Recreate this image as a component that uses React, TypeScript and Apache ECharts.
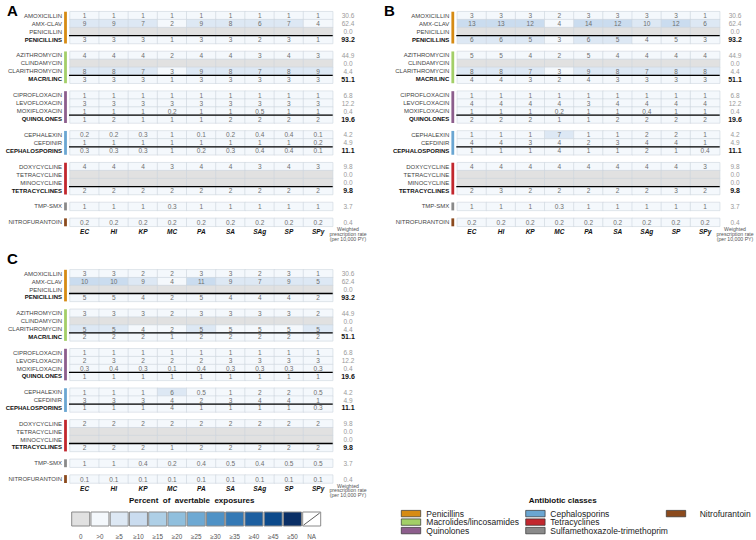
import React, { useEffect, useRef } from 'react';
import * as echarts from 'echarts';

const FONT = 'Liberation Sans, Arial, Helvetica, sans-serif';

const organisms = ['EC', 'HI', 'KP', 'MC', 'PA', 'SA', 'SAg', 'SP', 'SPy'];
const drugs = [
  'AMOXICILLIN', 'AMX-CLAV', 'PENICILLIN', 'PENICILLINS',
  'AZITHROMYCIN', 'CLINDAMYCIN', 'CLARITHROMYCIN', 'MACR/LINC',
  'CIPROFLOXACIN', 'LEVOFLOXACIN', 'MOXIFLOXACIN', 'QUINOLONES',
  'CEPHALEXIN', 'CEFDINIR', 'CEPHALOSPORINS',
  'DOXYCYCLINE', 'TETRACYCLINE', 'MINOCYCLINE', 'TETRACYCLINES',
  'TMP-SMX',
  'NITROFURANTOIN',
];
const classRowNames = ['PENICILLINS', 'MACR/LINC', 'QUINOLONES', 'CEPHALOSPORINS', 'TETRACYCLINES'];
const groupSizes = [4, 4, 4, 3, 4, 1, 1];
const rates = [30.6, 62.4, 0.0, 93.2, 44.9, 0.0, 4.4, 51.1, 6.8, 12.2, 0.4, 19.6, 4.2, 4.9, 11.1, 9.8, 0.0, 0.0, 9.8, 3.7, 0.4];

const classNames = ['Penicillins', 'Macrolides/lincosamides', 'Quinolones', 'Cephalosporins', 'Tetracyclines', 'Sulfamethoxazole-trimethoprim', 'Nitrofurantoin'];
const classColors = ['#d68b14', '#a3cf68', '#8d5e8d', '#6aa6d2', '#c2272e', '#8a8a8a', '#8b4a1d'];

const binLabels = ['0', '>0', '≥5', '≥10', '≥15', '≥20', '≥25', '≥30', '≥35', '≥40', '≥45', '≥50', 'NA'];
const binThresholds = [5, 10, 15, 20, 25, 30, 35, 40, 45, 50];
const binColors = ['#e1e1e1', '#f4f8fc', '#dde8f4', '#cadcef', '#aecfe6', '#90bfdd', '#6ea9d3', '#4f92c6', '#3479b5', '#1d5fa0', '#0c4a8b', '#0a2f66'];

const Z = [0, 0, 0, 0, 0, 0, 0, 0, 0];

const valuesA = [
  [1, 1, 1, 1, 1, 1, 1, 1, 1],
  [9, 9, 7, 2, 9, 8, 6, 7, 4],
  Z,
  [3, 3, 3, 1, 3, 3, 2, 3, 1],
  [4, 4, 4, 2, 4, 4, 3, 4, 3],
  Z,
  [8, 8, 7, 3, 9, 8, 7, 8, 9],
  [3, 3, 3, 1, 3, 3, 3, 3, 3],
  [1, 1, 1, 1, 1, 1, 1, 1, 1],
  [3, 3, 3, 3, 3, 3, 3, 3, 3],
  [1, 1, 1, 0.2, 1, 1, 0.5, 1, 1],
  [1, 2, 1, 1, 1, 2, 2, 2, 2],
  [0.2, 0.2, 0.3, 1, 0.1, 0.2, 0.4, 0.4, 0.1],
  [1, 1, 1, 1, 1, 1, 1, 1, 0.2],
  [0.3, 0.3, 0.3, 1, 0.2, 0.3, 0.4, 0.4, 0.1],
  [4, 4, 4, 3, 4, 4, 3, 4, 3],
  Z,
  Z,
  [2, 2, 2, 2, 2, 2, 2, 2, 2],
  [1, 1, 1, 0.3, 1, 1, 1, 1, 1],
  [0.2, 0.2, 0.2, 0.2, 0.2, 0.2, 0.2, 0.2, 0.2],
];

const valuesB = [
  [3, 3, 3, 2, 3, 3, 3, 3, 1],
  [13, 13, 12, 4, 14, 12, 9.7, 12, 6],
  Z,
  [6, 6, 5.2, 3, 6, 5.2, 4, 4.7, 3],
  [4.6, 4.6, 4, 2, 4.6, 4, 4, 4, 4],
  Z,
  [8, 8, 7, 3, 9, 8, 7, 8, 8],
  [4, 4, 3, 2, 4, 3, 3, 3, 3],
  [1, 1, 1, 1, 1, 1, 1, 1, 1],
  [4, 4, 4, 4, 3, 4, 4, 4, 4],
  [1, 1, 1, 0.2, 1, 1, 0.4, 1, 1],
  [2, 2, 2, 1, 1, 2, 2, 2, 2],
  [1, 1, 1, 7, 1, 1, 2, 2, 1],
  [4, 4, 3, 4, 2, 3, 4, 4, 1],
  [1, 1, 1, 4, 1, 1, 2, 1, 0.4],
  [4, 4, 4, 4, 4, 4, 4, 4, 3],
  Z,
  Z,
  [2, 3, 2, 2, 2, 2, 2, 3, 2],
  [1, 1, 1, 0.3, 1, 1, 1, 1, 1],
  [0.2, 0.2, 0.2, 0.2, 0.2, 0.2, 0.2, 0.2, 0.2],
];

const valuesC = [
  [3, 3, 2, 2, 3, 3, 2, 3, 1],
  [10, 10, 9, 4, 11, 9, 7, 9, 5],
  Z,
  [4.7, 4.7, 4, 2, 4.7, 4, 4, 4, 2],
  [3, 3, 3, 2, 3, 3, 3, 3, 2],
  Z,
  [5, 5, 4, 2, 5, 4.7, 4.7, 4.7, 5],
  [2, 2, 2, 1, 2, 2, 2, 2, 2],
  [1, 1, 1, 1, 1, 1, 1, 1, 1],
  [2, 3, 2, 2, 2, 3, 3, 3, 3],
  [0.3, 0.4, 0.3, 0.1, 0.4, 0.3, 0.3, 0.3, 0.3],
  [1, 1, 1, 1, 1, 1, 1, 1, 1],
  [1, 1, 1, 6, 0.5, 1, 2, 2, 0.5],
  [3, 3, 3, 4, 2, 3, 4, 4, 1],
  [1, 1, 1, 4, 1, 1, 1, 1, 0.3],
  [2, 2, 2, 2, 2, 2, 2, 2, 2],
  Z,
  Z,
  [2, 2, 2, 1, 2, 2, 2, 2, 2],
  [1, 1, 0.4, 0.2, 0.4, 0.5, 0.4, 0.5, 0.5],
  [0.1, 0.1, 0.1, 0.1, 0.1, 0.1, 0.1, 0.1, 0.1],
];

const panelValues = [valuesA, valuesB, valuesC];
const panelLetters = ['A', 'B', 'C'];

// layout (styles / positions)
const panels = [
  { left: 70, top: 11.7, width: 262.7, height: 214.6, lx: 7, ly: 10 },
  { left: 457.3, top: 11.7, width: 262.4, height: 214.6, lx: 384, ly: 10 },
  { left: 70, top: 269.8, width: 262.7, height: 213.2, lx: 7, ly: 258 },
];

// build row structure (drug rows with a blank row between groups)
const rowKeys: string[] = [];
const rowDrug: number[] = [];
const groupSpans: number[][] = [];
(() => {
  let r = 0;
  let d = 0;
  groupSizes.forEach((n, gi) => {
    const start = r;
    for (let k = 0; k < n; k++) {
      rowKeys.push(drugs[d]);
      rowDrug.push(d);
      d++;
      r++;
    }
    groupSpans.push([start, r - 1]);
    if (gi < groupSizes.length - 1) {
      rowKeys.push('gap' + gi);
      rowDrug.push(-1);
      r++;
    }
  });
})();
const drugToRow = (d: number) => rowDrug.indexOf(d);

const fmt = (v: number) => (v === 0 ? '' : v >= 1 ? String(Math.round(v)) : v.toFixed(1));

function buildOption() {
  const grid = panels.map((p) => ({ left: p.left, top: p.top, width: p.width, height: p.height, containLabel: false }));
  const xAxis = panels.map((p, i) => ({
    type: 'category',
    gridIndex: i,
    data: organisms,
    position: 'bottom',
    axisLine: { show: false },
    axisTick: { show: false },
    splitLine: { show: false },
    axisLabel: { fontSize: 6.5, fontWeight: 'bold', fontStyle: 'italic', color: '#111', margin: 2, interval: 0, fontFamily: FONT },
  }));
  const leftY = panels.map((p, i) => ({
    type: 'category',
    gridIndex: i,
    data: rowKeys,
    inverse: true,
    position: 'left',
    axisLine: { show: false },
    axisTick: { show: false },
    splitLine: { show: false },
    axisLabel: {
      interval: 0,
      margin: 8,
      fontFamily: FONT,
      formatter: (val: string, idx: number) => {
        const d = rowDrug[idx];
        if (d < 0) return '';
        const name = drugs[d];
        return classRowNames.includes(name) ? `{c|${name}}` : `{d|${name}}`;
      },
      rich: {
        d: { fontSize: 6, color: '#444', fontFamily: FONT },
        c: { fontSize: 6, color: '#111', fontWeight: 'bold', fontFamily: FONT },
      },
    },
  }));
  const rightY = panels.map((p, i) => ({
    type: 'category',
    gridIndex: i,
    data: rowKeys,
    inverse: true,
    position: 'right',
    axisLine: { show: false },
    axisTick: { show: false },
    splitLine: { show: false },
    axisLabel: {
      interval: 0,
      margin: 15.3,
      align: 'center',
      fontFamily: FONT,
      formatter: (val: string, idx: number) => {
        const d = rowDrug[idx];
        if (d < 0) return '';
        const t = rates[d].toFixed(1);
        return classRowNames.includes(drugs[d]) ? `{b|${t}}` : `{r|${t}}`;
      },
      rich: {
        r: { fontSize: 6.5, color: '#9a9a9a', fontFamily: FONT },
        b: { fontSize: 7, color: '#111', fontWeight: 'bold', fontFamily: FONT },
      },
    },
  }));

  const heatSeries = panelValues.map((vals, i) => {
    const data: number[][] = [];
    vals.forEach((row, d) => {
      const r = drugToRow(d);
      row.forEach((v, c) => data.push([c, r, v]));
    });
    return {
      type: 'heatmap',
      xAxisIndex: i,
      yAxisIndex: i,
      data,
      itemStyle: { borderColor: '#ccd5de', borderWidth: 0.6 },
      label: {
        show: true,
        fontSize: 6.5,
        color: '#6e6e6e',
        fontFamily: FONT,
        formatter: (p: any) => fmt(p.value[2]),
      },
      emphasis: { disabled: true },
    };
  });

  const barData = groupSpans.map((s, gi) => [0, s[0], s[1], gi]);
  const barSeries = panels.map((p, i) => ({
    type: 'custom',
    xAxisIndex: i,
    yAxisIndex: i,
    data: barData,
    encode: { x: 0, y: 1 },
    silent: true,
    renderItem: (params: any, api: any) => {
      const p0 = api.coord([0, api.value(1)]);
      const p1 = api.coord([0, api.value(2)]);
      const s = api.size([1, 1]);
      const x = p0[0] - s[0] / 2 - 5.9;
      const y = p0[1] - s[1] / 2;
      const h = p1[1] - p0[1] + s[1];
      return { type: 'rect', shape: { x, y, width: 2.8, height: h }, style: { fill: classColors[api.value(3)] } };
    },
  }));

  const lineData = classRowNames.map((n) => [0, drugToRow(drugs.indexOf(n))]);
  const lineSeries = panels.map((p, i) => ({
    type: 'custom',
    xAxisIndex: i,
    yAxisIndex: i,
    data: lineData,
    encode: { x: 0, y: 1 },
    silent: true,
    z: 5,
    renderItem: (params: any, api: any) => {
      const c = api.coord([0, api.value(1)]);
      const s = api.size([1, 1]);
      const y = c[1] - s[1] / 2;
      const x0 = c[0] - s[0] / 2 - 1;
      const x1 = c[0] - s[0] / 2 + organisms.length * s[0];
      return { type: 'line', shape: { x1: x0, y1: y, x2: x1, y2: y }, style: { stroke: '#000', lineWidth: 1.3 } };
    },
  }));

  const pieces: any[] = [{ value: 0, color: binColors[0] }, { gt: 0, lt: binThresholds[0], color: binColors[1] }];
  binThresholds.forEach((t, k) => {
    const next = binThresholds[k + 1];
    const piece: any = { gte: t, color: binColors[k + 2] };
    if (next !== undefined) piece.lt = next;
    pieces.push(piece);
  });

  const graphic: any[] = [];
  const txt = (x: number, y: number, text: string, o: any = {}) => ({
    type: 'text',
    x,
    y,
    silent: true,
    style: {
      text,
      fill: o.fill || '#222',
      fontSize: o.fontSize || 8,
      fontWeight: o.fontWeight || 'normal',
      fontFamily: FONT,
      align: o.align || 'left',
      textAlign: o.align || 'left',
      verticalAlign: o.va || 'middle',
      textVerticalAlign: o.va || 'middle',
      lineHeight: o.lineHeight,
    },
  });

  panels.forEach((p, i) => {
    graphic.push(txt(p.lx, p.ly, panelLetters[i], { fontSize: 15, fontWeight: 'bold', fill: '#000' }));
    graphic.push(
      txt(p.left + p.width + 15.3, p.top + p.height + 0.2, 'Weighted\nprescription rate\n(per 10,000 PY)', {
        align: 'center',
        va: 'top',
        fontSize: 5.2,
        lineHeight: 4.8,
        fill: '#555',
      })
    );
  });

  // percent legend
  graphic.push(txt(191.7, 500, 'Percent  of  avertable  exposures', { align: 'center', fontSize: 8, fontWeight: 'bold', fill: '#111' }));
  const bx0 = 71.7;
  const pitch = 19.25;
  const bw = 18;
  const by = 512;
  const bh = 14;
  binLabels.forEach((lab, k) => {
    const x = bx0 + k * pitch;
    const isNA = k === binLabels.length - 1;
    graphic.push({
      type: 'rect',
      silent: true,
      shape: { x, y: by, width: bw, height: bh },
      style: { fill: isNA ? '#ffffff' : binColors[k], stroke: '#8a8a8a', lineWidth: 1 },
    });
    if (isNA) {
      graphic.push({
        type: 'line',
        silent: true,
        shape: { x1: x + 1, y1: by + bh - 1, x2: x + bw - 1, y2: by + 1 },
        style: { stroke: '#333', lineWidth: 0.8 },
      });
    }
    graphic.push(txt(x + bw / 2, 536, lab, { align: 'center', fontSize: 6.3, fill: '#555' }));
  });

  // class legend
  graphic.push(txt(562.7, 500, 'Antibiotic classes', { align: 'center', fontSize: 8, fontWeight: 'bold', fill: '#111' }));
  const colSw = [401.3, 525.7, 666.3];
  const colTx = [426.3, 550.3, 699.7];
  const rowY = [513.6, 522.1, 530.6];
  classNames.forEach((n, k) => {
    const col = Math.floor(k / 3);
    const row = k % 3;
    graphic.push({
      type: 'rect',
      silent: true,
      shape: { x: colSw[col], y: rowY[row] - 3.2, width: 19.4, height: 6.4 },
      style: { fill: classColors[k], stroke: '#333', lineWidth: 0.7 },
    });
    graphic.push(txt(colTx[col], rowY[row], n, { fontSize: 8.5, fill: '#222' }));
  });

  return {
    animation: false,
    backgroundColor: '#ffffff',
    textStyle: { fontFamily: FONT },
    grid,
    xAxis,
    yAxis: [...leftY, ...rightY],
    visualMap: { type: 'piecewise', show: false, seriesIndex: [0, 1, 2], dimension: 2, pieces },
    series: [...heatSeries, ...barSeries, ...lineSeries],
    graphic,
  };
}

export default function App() {
  const ref = useRef<HTMLDivElement>(null);
  useEffect(() => {
    if (!ref.current) return;
    const chart = echarts.init(ref.current, undefined, { renderer: 'svg' });
    chart.setOption(buildOption() as any);
    return () => chart.dispose();
  }, []);
  return <div ref={ref} style={{ position: 'fixed', left: 0, top: 0, width: 756, height: 540, background: '#fff' }} />;
}
